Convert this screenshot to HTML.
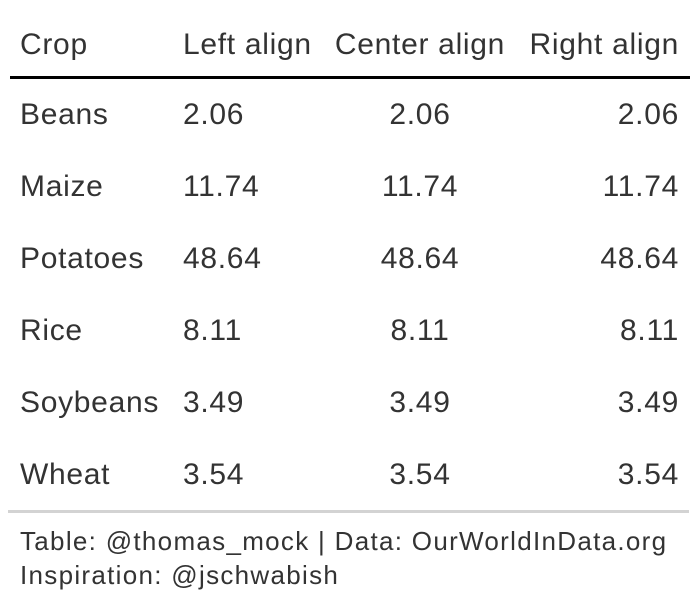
<!DOCTYPE html>
<html><head><meta charset="utf-8"><style>
body{margin:0;width:699px;height:616px;background:#fff;position:relative;overflow:hidden;font-family:"Liberation Sans",Arial,sans-serif;color:#333}
.c{position:absolute;font-size:30px;letter-spacing:0.7px;line-height:40px;height:40px;white-space:nowrap}
</style></head><body>
<div id="t"></div>
<div style="position:absolute;left:10px;top:76px;width:680px;height:3px;background:#000"></div>
<div style="position:absolute;left:8px;top:510px;width:681px;height:3px;background:#d3d3d3"></div>
<div style="position:absolute;left:20px;top:524px;font-size:26px;letter-spacing:1.3px;line-height:34px;color:#333;white-space:nowrap">Table: @thomas_mock | Data: OurWorldInData.org<br>Inspiration: @jschwabish</div>
<script>
const crops=["Beans","Maize","Potatoes","Rice","Soybeans","Wheat"];
const values=["2.06","11.74","48.64","8.11","3.49","3.54"];
const headers=["Crop","Left align","Center align","Right align"];
const t=document.getElementById('t');
function cell(txt,y,col,name){
  const d=document.createElement('div');
  d.className='c';
  
  
  d.textContent=txt;
  d.style.top=(y-20)+'px';
  if(col===0){d.style.left='20px';}
  else if(col===1){d.style.left='183px';}
  else if(col===2){d.style.left='320px';d.style.width='200px';d.style.textAlign='center';}
  else {d.style.right='20px';d.style.textAlign='right';}
  t.appendChild(d);
}
headers.forEach((h,i)=>cell(h,45,i,'column-header'));
crops.forEach((c,i)=>{
  const y=115+i*72;
  cell(c,y,0,'crop-name');
  cell(values[i],y,1,'value-left');
  cell(values[i],y,2,'value-center');
  cell(values[i],y,3,'value-right');
});
</script>
</body></html>
